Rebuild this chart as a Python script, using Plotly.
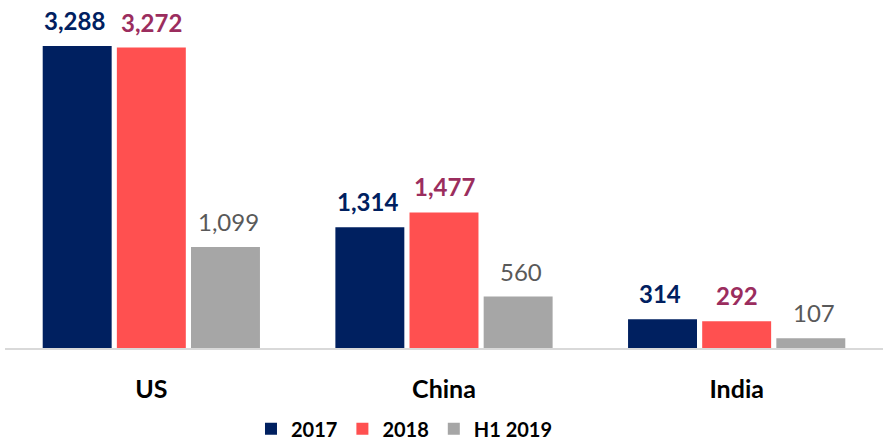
import plotly.graph_objects as go

categories = ["US", "China", "India"]
series_names = ["2017", "2018", "H1 2019"]
values_2017 = [3288, 1314, 314]
values_2018 = [3272, 1477, 292]
values_h1_2019 = [1099, 560, 107]

bar_colors = ["#002060", "#FF5050", "#A6A6A6"]
label_colors = ["#002060", "#9B2D5E", "#595959"]
label_bold = [True, True, False]
all_values = [values_2017, values_2018, values_h1_2019]

FONT = "Lato"

fig = go.Figure()
for name, vals, col in zip(series_names, all_values, bar_colors):
    fig.add_trace(go.Bar(x=categories, y=vals, name=f"<b>{name}</b>", marker_color=col,
                         marker_line_width=0))

shifts = [-77, 0, 77]
for vals, lc, bold, sh in zip(all_values, label_colors, label_bold, shifts):
    for c, v in zip(categories, vals):
        t = f"{v:,}"
        if bold:
            t = f"<b>{t}</b>"
        fig.add_annotation(x=c, y=v, text=t, showarrow=False, xshift=sh,
                           yanchor="bottom", yshift=9,
                           font=dict(family=FONT, size=24, color=lc))

fig.update_layout(
    width=883, height=445,
    margin=dict(l=5, r=0, t=0, b=97, autoexpand=False),
    plot_bgcolor="white", paper_bgcolor="white",
    barmode="group", bargap=0.24, bargroupgap=0.07,
    font=dict(family=FONT),
    showlegend=True,
    legend=dict(orientation="h", x=0.455, xanchor="center", y=-0.232, yanchor="middle",
                font=dict(family=FONT, size=20, color="#000000"),
                itemsizing="constant", traceorder="normal"),
    xaxis=dict(showline=True, linecolor="#D9D9D9", linewidth=2,
               tickfont=dict(family=FONT, size=25, color="#000000"),
               ticks="", ticklabelstandoff=18,
               tickvals=categories, ticktext=[f"<b>{c}</b>" for c in categories]),
    yaxis=dict(visible=False, range=[0, 3790], showgrid=False, zeroline=False),
)

fig.write_html("out.html", config={"displayModeBar": False},
               post_script="document.body.style.margin='0';")
